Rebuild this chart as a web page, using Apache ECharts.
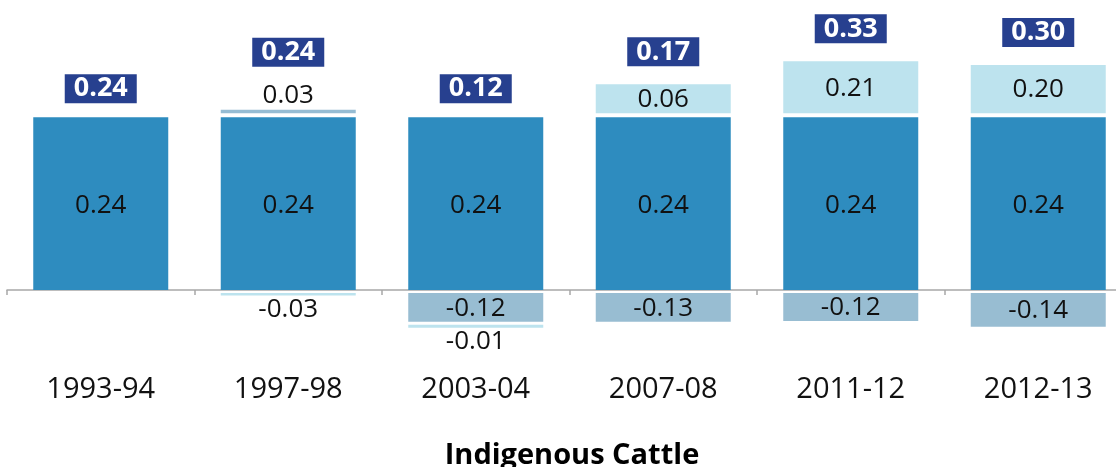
<!DOCTYPE html>
<html>
<head>
<meta charset="utf-8">
<script src="https://cdn.jsdelivr.net/npm/echarts@6/dist/echarts.min.js"></script>
<style>
  html, body { margin: 0; padding: 0; background: #fff; }
  #chart { width: 1116px; height: 467px; }
</style>
</head>
<body>
<div id="chart"></div>
<script>
// categories
const years = ['1993-94', '1997-98', '2003-04', '2007-08', '2011-12', '2012-13'];

// printed values
const baseValues = [0.24, 0.24, 0.24, 0.24, 0.24, 0.24];
const riseGrayValues = [null, 0.03, null, null, null, null];
const riseLightValues = [null, null, null, 0.06, 0.21, 0.20];
const fallGrayValues = [null, null, -0.12, -0.13, -0.12, -0.14];
const fallLightValues = [null, -0.03, -0.01, null, null, null];
const totalValues = [0.24, 0.24, 0.12, 0.17, 0.33, 0.30];

// heights of the segments as drawn in the picture (not to scale with the printed numbers)
const riseGrayShown = [null, 0.0046, null, null, null, null];
const riseLightShown = [null, null, null, 0.040, 0.072, 0.067];
const fallGrayShown = [null, null, -0.040, -0.040, -0.039, -0.047];
const fallLightShown = [null, -0.0035, -0.0042, null, null, null];

const FONT = 'Open Sans';
const GAP_UP = 0.0056;    // white gap between stacked pieces
const GAP_DOWN = 0.0042;
const THIN = 0.01;         // below this a piece gets its label outside

const chart = echarts.init(document.getElementById('chart'));

function spacer(name, values) {
    return {
        name: name, type: 'bar', stack: 'all', silent: true,
        itemStyle: { color: 'transparent' },
        label: { show: false },
        data: values
    };
}

function piece(name, shown, printed, color, outsidePos) {
    return {
        name: name, type: 'bar', stack: 'all',
        itemStyle: { color: color },
        data: shown.map((v, i) => {
            if (v === null) return null;
            const thin = Math.abs(v) < THIN;
            return {
                value: v,
                label: {
                    show: true,
                    position: thin ? outsidePos : 'inside',
                    distance: thin ? 1 : 5,
                    offset: thin ? [0, 0] : [0, 1],
                    formatter: printed[i].toFixed(2)
                }
            };
        }),
        label: { fontFamily: FONT, fontSize: 26, color: '#111' }
    };
}

const hasRise = years.map((_, i) => riseGrayShown[i] !== null || riseLightShown[i] !== null);
const riseOutside = years.map((_, i) => {
    const s = riseGrayShown[i] !== null ? riseGrayShown[i] : riseLightShown[i];
    return s !== null && Math.abs(s) < THIN;
});

const option = {
    animation: false,
    title: {
        text: 'Indigenous Cattle',
        left: 567, top: 436, textAlign: 'center',
        textStyle: { fontFamily: FONT, fontSize: 29, fontWeight: 'bold', color: '#000' }
    },
    grid: { left: 7, width: 1125, top: 2, height: 360, outerBoundsMode: 'none' },
    xAxis: {
        type: 'category',
        data: years,
        axisLine: { lineStyle: { color: '#a8a8a8', width: 1.5 } },
        axisTick: { show: true, length: 5, lineStyle: { color: '#a8a8a8', width: 1.5 } },
        axisLabel: { margin: 13, fontFamily: FONT, fontSize: 29, color: '#111' }
    },
    yAxis: {
        type: 'value', min: -0.1, max: 0.4, show: false,
        splitLine: { show: false }
    },
    series: [
        {
            name: 'base', type: 'bar', stack: 'all', barCategoryGap: '28%',
            itemStyle: { color: '#2e8cbf' },
            label: {
                show: true, position: 'inside', fontFamily: FONT, fontSize: 26, color: '#111',
                offset: [0, 2],
                formatter: p => baseValues[p.dataIndex].toFixed(2)
            },
            data: baseValues
        },
        spacer('gapUp', hasRise.map(h => h ? GAP_UP : null)),
        piece('riseGray', riseGrayShown, riseGrayValues, '#96bcd3', 'top'),
        piece('riseLight', riseLightShown, riseLightValues, '#bde3ee', 'top'),
        spacer('gapDown', years.map((_, i) =>
            (fallGrayShown[i] !== null || fallLightShown[i] !== null) ? -GAP_DOWN : null)),
        piece('fallGray', fallGrayShown, fallGrayValues, '#98bdd2', 'bottom'),
        spacer('gapDown2', years.map((_, i) =>
            (fallGrayShown[i] !== null && fallLightShown[i] !== null) ? -GAP_DOWN : null)),
        piece('fallLight', fallLightShown, fallLightValues, '#bde3ee', 'bottom'),
        {
            // tiny positive value so it sits on top of the positive stack
            name: 'total', type: 'bar', stack: 'all', silent: true,
            itemStyle: { color: 'transparent' },
            data: totalValues.map((t, i) => ({
                value: 1e-9,
                label: {
                    show: true, position: 'top',
                    distance: 14 + (hasRise[i] ? 4 : 0) + (riseOutside[i] ? 25 : 0),
                    formatter: t.toFixed(2)
                }
            })),
            label: {
                fontFamily: FONT, fontSize: 27, fontWeight: 'bold', color: '#fff',
                backgroundColor: '#27408f', padding: [1, 9, 1, 9], lineHeight: 27
            }
        }
    ]
};

chart.setOption(option);
</script>
</body>
</html>
